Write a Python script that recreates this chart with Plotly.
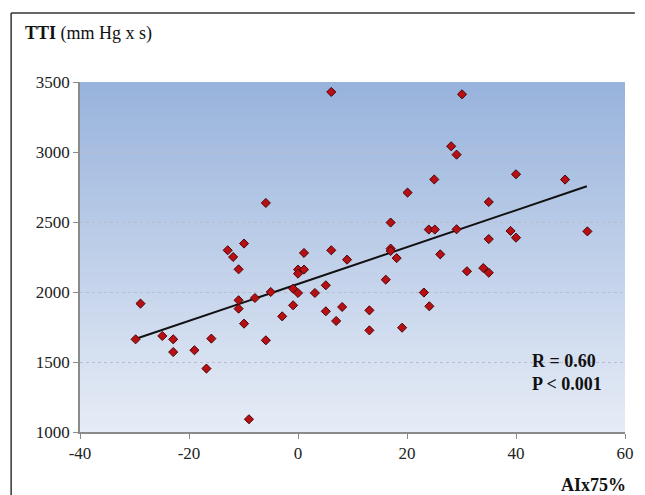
import plotly.graph_objects as go

aix75 = [-29.8, -28.9, -24.9, -22.9, -22.9, -19.0, -15.9, -16.8, -12.9, -11.9,
         -9.9, -10.9, -10.9, -10.9, -9.9, -9.0, -7.9, -5.0, -5.9, -5.9,
         -2.9, -0.9, -0.9, 0.0, 0.0, 0.0, 1.1, 1.1, 3.1, 5.1,
         5.1, 6.1, 6.1, 7.0, 8.1, 9.0, 13.1, 13.1, 16.1, 17.0,
         17.0, 17.0, 18.1, 19.1, 20.1, 23.1, 24.1, 24.0, 25.1, 25.0,
         26.1, 28.1, 29.1, 29.1, 30.1, 31.0, 34.0, 35.0, 35.0, 35.0,
         39.0, 40.0, 40.0, 49.0, 53.1]
tti = [1662, 1917, 1686, 1662, 1571, 1584, 1667, 1453, 2298, 2250,
       2346, 2162, 1941, 1881, 1774, 1091, 1957, 2000, 1655, 2636,
       1826, 1905, 2024, 1993, 2160, 2131, 2160, 2279, 1993, 2048,
       1862, 2298, 3429, 1793, 1893, 2231, 1869, 1726, 2088, 2310,
       2293, 2496, 2242, 1745, 2710, 1996, 1898, 2446, 2446, 2804,
       2269, 3041, 2981, 2448, 3412, 2148, 2171, 2138, 2378, 2643,
       2436, 2388, 2841, 2803, 2433]

fit_x = [-30, 53]
fit_y = [1662, 2755]

x_ticks = [-40, -20, 0, 20, 40, 60]
x_tick_labels = ["-40", "-20", "0", "20", "40", "60"]
y_ticks = [1000, 1500, 2000, 2500, 3000, 3500]
y_tick_labels = ["1000", "1500", "2000", "2500", "3000", "3500"]

W, H = 645, 495
ML, MR, MT, MB = 80, 11, 82, 63
FONT = "Liberation Serif"

fig = go.Figure()
fig.add_trace(go.Scatter(x=fit_x, y=fit_y, mode="lines",
                         line=dict(color="#111111", width=2), hoverinfo="skip"))
fig.add_trace(go.Scatter(x=aix75, y=tti, mode="markers",
                         marker=dict(symbol="diamond", size=7, color="#B80F14",
                                     line=dict(color="#4a0505", width=1))))

# gradient background
shapes = []
n = 70
top = (152, 179, 220)
bot = (230, 236, 246)
for i in range(n):
    t = i / (n - 1)
    c = tuple(round(top[k] + (bot[k] - top[k]) * t) for k in range(3))
    shapes.append(dict(type="rect", xref="x domain", yref="y domain",
                       x0=0, x1=1, y0=1 - (i + 1) / n, y1=1 - i / n,
                       fillcolor="rgb(%d,%d,%d)" % c, line=dict(width=0),
                       layer="below"))

pw = W - ML - MR
ph = H - MT - MB
def px(x):
    return (x - ML) / pw
def py(y):
    return (H - MB - y) / ph

# outer frame (top and left lines only)
shapes.append(dict(type="line", xref="paper", yref="paper",
                   x0=px(10), x1=px(10), y0=py(13), y1=py(500),
                   line=dict(color="#333333", width=1.5)))
shapes.append(dict(type="line", xref="paper", yref="paper",
                   x0=px(10), x1=px(644), y0=py(13), y1=py(13),
                   line=dict(color="#333333", width=1.5)))

fig.update_layout(
    width=W, height=H,
    margin=dict(l=ML, r=MR, t=MT, b=MB),
    paper_bgcolor="white",
    plot_bgcolor="#e6ecf6",
    showlegend=False,
    shapes=shapes,
    font=dict(family=FONT, size=15, color="#222222"),
    xaxis=dict(range=[-40, 60], tickvals=x_ticks, ticktext=x_tick_labels,
               showgrid=False, zeroline=False,
               showline=True, linecolor="#8a8a8a", linewidth=1.5,
               ticks="outside", ticklen=5, tickcolor="#8a8a8a",
               tickfont=dict(family=FONT, size=17, color="#222222")),
    yaxis=dict(range=[1000, 3500], tickvals=y_ticks, ticktext=y_tick_labels,
               showgrid=True,
               gridcolor="#b8bfcc", griddash="dot", gridwidth=1, zeroline=False,
               showline=True, linecolor="#8a8a8a", linewidth=1.5,
               ticks="outside", ticklen=5, tickcolor="#8a8a8a",
               tickfont=dict(family=FONT, size=17, color="#222222")),
    annotations=[
        dict(xref="paper", yref="paper", x=px(22), y=py(33), xanchor="left", yanchor="middle",
             text="<b>TTI</b> (mm Hg x s)", showarrow=False,
             font=dict(family=FONT, size=18, color="#111111")),
        dict(xref="paper", yref="paper", x=px(637), y=py(485), xanchor="right", yanchor="middle",
             text="<b>AIx75%</b>", showarrow=False,
             font=dict(family=FONT, size=18, color="#111111")),
        dict(xref="paper", yref="paper", x=px(537), y=py(372), xanchor="left", yanchor="middle",
             text="<b>R = 0.60</b><br><b>P < 0.001</b>", showarrow=False, align="left",
             font=dict(family=FONT, size=18, color="#111111")),
    ],
)

fig.write_html("out.html")
